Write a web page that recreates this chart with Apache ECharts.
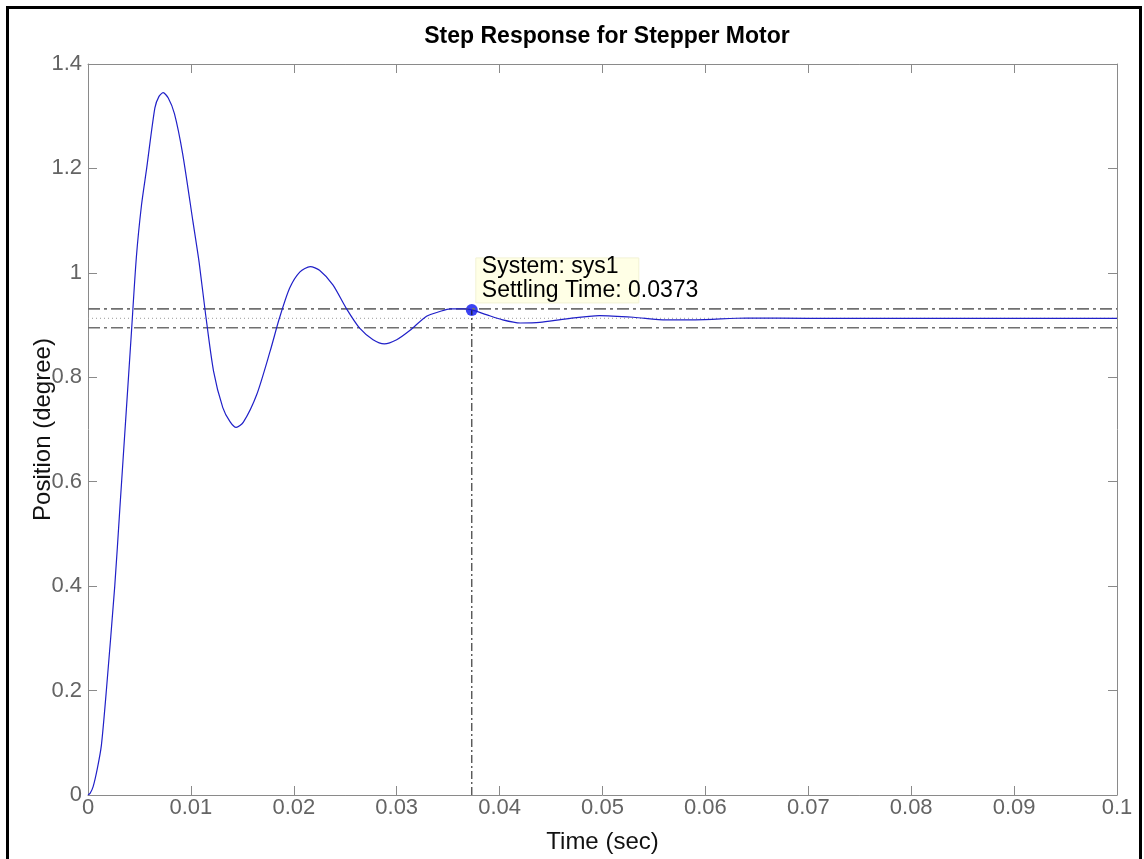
<!DOCTYPE html>
<html>
<head>
<meta charset="utf-8">
<title>Step Response for Stepper Motor</title>
<script src="https://cdn.jsdelivr.net/npm/echarts@6/dist/echarts.min.js"></script>
<style>
  html, body { margin: 0; padding: 0; background: #fff; }
  #main { width: 1144px; height: 859px; }
</style>
</head>
<body>
<div id="main"></div>
<script>
// step response
var timeSec = [0, 0.0002, 0.0005, 0.0009, 0.0013, 0.0018, 0.0026, 0.0031, 0.0037, 0.0042,
  0.0047, 0.0052, 0.0057, 0.0065, 0.0069, 0.0073, 0.0078, 0.0084, 0.0092, 0.0102,
  0.0108, 0.0114, 0.0122, 0.0131, 0.0138, 0.0144, 0.0151, 0.0164, 0.0177, 0.0186,
  0.0196, 0.0206, 0.0216, 0.0225, 0.0238, 0.0251, 0.0264, 0.0277, 0.0288, 0.0300,
  0.0313, 0.0329, 0.0342, 0.0352, 0.0365, 0.0373, 0.0387, 0.0403, 0.0420, 0.0439,
  0.0465, 0.0497, 0.0530, 0.0562, 0.0590, 0.0640, 0.0700, 0.0800, 0.1000];
var position = [0, 0.003, 0.016, 0.05, 0.095, 0.204, 0.40, 0.55, 0.73, 0.88,
  1.03, 1.13, 1.20, 1.316, 1.338, 1.345, 1.335, 1.305, 1.228, 1.098,
  1.02, 0.925, 0.812, 0.742, 0.715, 0.704, 0.714, 0.767, 0.85, 0.913,
  0.971, 1.002, 1.012, 1.005, 0.977, 0.932, 0.894, 0.872, 0.864, 0.872,
  0.890, 0.917, 0.926, 0.931, 0.931, 0.929, 0.920, 0.910, 0.904, 0.905,
  0.912, 0.918, 0.915, 0.910, 0.910, 0.9135, 0.913, 0.913, 0.913];

var xRange = [0, 0.1];
var xTicks = ['0', '0.01', '0.02', '0.03', '0.04', '0.05', '0.06', '0.07', '0.08', '0.09', '0.1'];
var yTicks = ['0', '0.2', '0.4', '0.6', '0.8', '1', '1.2', '1.4'];

var finalValue = 0.913;
var bandUpper = 0.931;
var bandLower = 0.895;
var settleTime = 0.0373;
var settleValue = 0.929;
var boxLines = ['System: sys1', 'Settling Time: 0.0373'];

var font = 'Liberation Sans, Arial, sans-serif';
var axisGray = '#8a8a8a';

function tickFmt(list, step) {
  return function (v) {
    var i = Math.round(v / step);
    return list[i] !== undefined ? list[i] : '';
  };
}

var tickStyle = { inside: true, length: 9, lineStyle: { color: axisGray } };
var lineStyle = { onZero: false, lineStyle: { color: axisGray } };

var chart = echarts.init(document.getElementById('main'));

var option = {
  animation: false,
  backgroundColor: '#fff',
  title: {
    text: 'Step Response for Stepper Motor',
    left: 602, top: 20, textAlign: 'center',
    textStyle: { fontFamily: font, fontSize: 23, fontWeight: 'bold', color: '#000' }
  },
  grid: { left: 88, right: 27, top: 64, bottom: 59 },
  xAxis: [{
    type: 'value', min: xRange[0], max: xRange[1], interval: 0.01,
    name: 'Time (sec)', nameLocation: 'middle', nameGap: 35, nameMoveOverlap: false,
    nameTextStyle: { fontFamily: font, fontSize: 24, color: '#111' },
    axisLine: lineStyle,
    axisTick: tickStyle,
    axisLabel: { fontFamily: font, fontSize: 22, color: '#646464', margin: 2,
      formatter: tickFmt(xTicks, 0.01), showMaxLabel: true, showMinLabel: true },
    splitLine: { show: false }
  }, {
    type: 'value', position: 'top', min: xRange[0], max: xRange[1], interval: 0.01,
    axisLine: lineStyle,
    axisTick: tickStyle,
    axisLabel: { show: false }, splitLine: { show: false }
  }],
  yAxis: [{
    type: 'value', min: 0, max: 1.4, interval: 0.2,
    name: 'Position (degree)', nameLocation: 'middle', nameGap: 33, nameMoveOverlap: false,
    nameTextStyle: { fontFamily: font, fontSize: 24, color: '#111' },
    axisLine: { show: true, onZero: false, lineStyle: { color: axisGray } },
    axisTick: { show: true, inside: true, length: 9, lineStyle: { color: axisGray } },
    axisLabel: { fontFamily: font, fontSize: 22, color: '#646464', margin: 6,
      formatter: tickFmt(yTicks, 0.2) },
    splitLine: { show: false }
  }, {
    type: 'value', position: 'right', min: 0, max: 1.4, interval: 0.2,
    axisLine: { show: true, onZero: false, lineStyle: { color: axisGray } },
    axisTick: { show: true, inside: true, length: 9, lineStyle: { color: axisGray } },
    axisLabel: { show: false }, splitLine: { show: false }
  }],
  series: [{
    type: 'line', name: 'upper',
    data: [[xRange[0], bandUpper], [xRange[1], bandUpper]],
    symbol: 'none', silent: true,
    lineStyle: { color: '#707070', width: 1.6, type: [12, 4, 3, 4] }
  }, {
    type: 'line', name: 'lower',
    data: [[xRange[0], bandLower], [xRange[1], bandLower]],
    symbol: 'none', silent: true,
    lineStyle: { color: '#707070', width: 1.6, type: [12, 4, 3, 4] }
  }, {
    type: 'line', name: 'final',
    data: [[xRange[0], finalValue], [xRange[1], finalValue]],
    symbol: 'none', silent: true,
    lineStyle: { color: '#9a9a9a', width: 1, type: [1, 3] }
  }, {
    type: 'line', name: 'settle',
    data: [[settleTime, 0], [settleTime, settleValue]],
    symbol: 'none', silent: true,
    lineStyle: { color: '#111', width: 1, type: [8, 3, 2, 3] }
  }, {
    type: 'line', name: 'sys1',
    data: timeSec.map(function (t, i) { return [t, position[i]]; }),
    symbol: 'none', smooth: 0.25,
    lineStyle: { color: '#2020c8', width: 1.2 }
  }, {
    type: 'scatter', name: 'settling point',
    data: [[settleTime, settleValue]],
    symbolSize: 12,
    itemStyle: { color: '#0a14f0' }
  }]
};
chart.setOption(option);

// data tip box and outer frame
var p = chart.convertToPixel({ gridIndex: 0 }, [settleTime, settleValue]);
chart.setOption({
  graphic: [{
    type: 'rect', z: 100,
    shape: { x: p[0] + 4, y: p[1] - 52, width: 163, height: 45 },
    style: { fill: '#ffffe6', stroke: '#f2f2d4', lineWidth: 1 }
  }, {
    type: 'text', z: 101, x: p[0] + 10, y: p[1] - 55,
    style: { text: boxLines[0], font: '23px ' + font, fill: '#000' }
  }, {
    type: 'text', z: 101, x: p[0] + 10, y: p[1] - 31,
    style: { text: boxLines[1], font: '23px ' + font, fill: '#000' }
  }, {
    type: 'rect', z: 100,
    shape: { x: 7.5, y: 7.5, width: 1133, height: 900 },
    style: { fill: 'none', stroke: '#000', lineWidth: 3 }
  }]
});
</script>
</body>
</html>
